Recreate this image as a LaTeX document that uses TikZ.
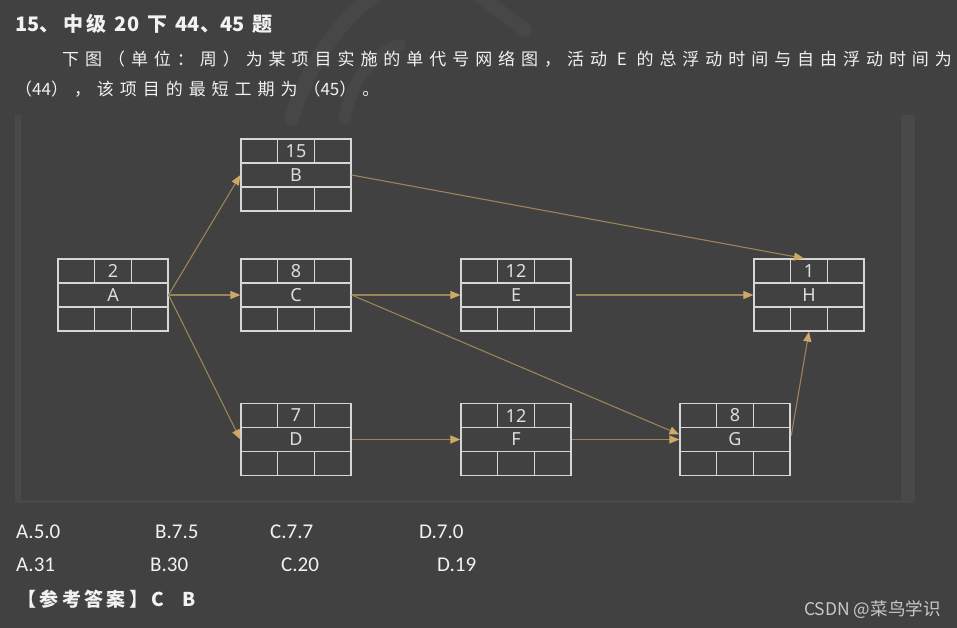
\documentclass[tikz,border=0pt]{standalone}
\usepackage{fontspec}
\setmainfont{Carlito}
\newfontfamily\cjk{Noto Sans CJK SC}
\newfontfamily\cjkwide[LetterSpace=35]{Noto Sans CJK SC}
\newfontfamily\cjktitle[LetterSpace=18]{Noto Sans CJK SC}
\newfontfamily\boxfont{Noto Sans}
\usetikzlibrary{arrows.meta,calc}

\definecolor{bgcol}{HTML}{414141}
\definecolor{stripcol}{HTML}{494949}
\definecolor{swirl}{HTML}{474747}
\definecolor{boxline}{HTML}{D6D6D6}
\definecolor{boxtext}{HTML}{DCDCE2}
\definecolor{arrowline}{HTML}{9B8457}
\definecolor{arrowtip}{HTML}{CDA866}
\definecolor{textwhite}{HTML}{F2F2F2}
\definecolor{markcol}{HTML}{C8C8C8}

% digits set without the wide letter spacing
\newcommand{\tight}[1]{{\addfontfeature{LetterSpace=0}#1}}

\tikzset{
  actbox/.style={draw=boxline, line width=1.2pt, minimum width=110pt,
    minimum height=72pt, inner sep=0pt, text=boxtext,
    font=\boxfont\fontsize{18}{18}\selectfont},
  cell/.style={draw=boxline, line width=1.2pt},
  durtext/.style={inner sep=0pt, text=boxtext,
    font=\boxfont\fontsize{18}{18}\selectfont},
  dep/.style={draw=arrowline, line width=1.1pt,
    -{Triangle[length=10pt,width=8pt,color=arrowtip]}},
  txt/.style={anchor=base west, inner sep=0pt, text=textwhite},
}

% one activity box: name, centre, duration, label
\newcommand{\activity}[4]{%
  \node[actbox] (#1) at (#2) {#4};
  \draw[cell] ([yshift=12pt]#1.west) -- ([yshift=12pt]#1.east)
              ([yshift=-12pt]#1.west) -- ([yshift=-12pt]#1.east);
  \foreach \k in {-1,1} {
    \draw[cell] ([xshift={\k*18.33pt}]#1.north) -- ++(0,-24pt)
                ([xshift={\k*18.33pt}]#1.south) -- ++(0,24pt);
  }
  \node[durtext] (#1-dur) at ([yshift=24pt]#1.center) {#3};
}

\begin{document}
\begin{tikzpicture}[x=1pt,y=-1pt]
% background
\fill[bgcol] (0,0) rectangle (957,628);
\useasboundingbox (0,0) rectangle (957,628);
% faint swirl behind the heading
\draw[swirl,line width=15pt,line cap=round] (292,118) .. controls (310,60) and (340,20) .. (378,-8);
\draw[swirl,line width=12pt,line cap=round] (345,118) .. controls (352,80) and (370,55) .. (400,45);
\draw[swirl,line width=14pt,line cap=round] (478,-5) -- (525,30);
% panel edges
\fill[stripcol] (15,115) rectangle (21,503);
\fill[stripcol] (901,115) rectangle (915,503);
\fill[stripcol] (15,500) rectangle (915,503);

% question text
\node[txt, font=\cjktitle\bfseries\fontsize{20}{20}\selectfont] (title) at (15,32)
  {\tight{15}、中级 \tight{20} 下 \tight{44}、\tight{45} 题};
\node[txt, font=\cjkwide\fontsize{17}{17}\selectfont] (line1) at (62,66)
  {下图（单位：周）为某项目实施的单代号网络图，活动 E 的总浮动时间与自由浮动时间为};
\node[txt, font=\cjkwide\fontsize{17}{17}\selectfont] (line2) at (15,96)
  {（\tight{44}），该项目的最短工期为（\tight{45}）。};

% activities
\activity{A}{113,295}{2}{A}
\activity{B}{296,175}{15}{B}
\activity{C}{296,295}{8}{C}
\activity{D}{296,439.5}{7}{D}
\activity{E}{516,295}{12}{E}
\activity{F}{516,439.5}{12}{F}
\activity{G}{735,439.5}{8}{G}
\activity{H}{809,295}{1}{H}

% dependencies
\draw[dep] (A.east) -- (B.west);
\draw[dep] (A.east) -- (C.west);
\draw[dep] (A.east) -- (D.west);
\draw[dep] (B.east) -- ([xshift=-5pt]H.north);
\draw[dep] (C.east) -- (E.west);
\draw[dep] (C.east) -- ([yshift=5pt]G.west);
\draw[dep,shorten <=4pt] (E.east) -- (H.west);
\draw[dep] (D.east) -- (F.west);
\draw[dep] (F.east) -- (G.west);
\draw[dep,shorten <=4pt] (G.east) -- (H.south);

% answer options
\begin{scope}[every node/.style={txt, font=\fontsize{21}{21}\selectfont}]
\node (q1a) at (16,538) {A.5.0};
\node (q1b) at (155,538) {B.7.5};
\node (q1c) at (270,538) {C.7.7};
\node (q1d) at (419,538) {D.7.0};
\node (q2a) at (16,571.5) {A.31};
\node (q2b) at (150,571.5) {B.30};
\node (q2c) at (281,571.5) {C.20};
\node (q2d) at (437,571.5) {D.19};
\end{scope}
\node[txt, font=\cjktitle\bfseries\fontsize{19}{19}\selectfont] (answer) at (17,606)
  {【参考答案】C\hspace{18pt}B};

% watermark
\node[txt, text=markcol, font=\cjk\fontsize{17.5}{17.5}\selectfont] (mark) at (804,615) {CSDN @菜鸟学识};
\end{tikzpicture}
\end{document}
